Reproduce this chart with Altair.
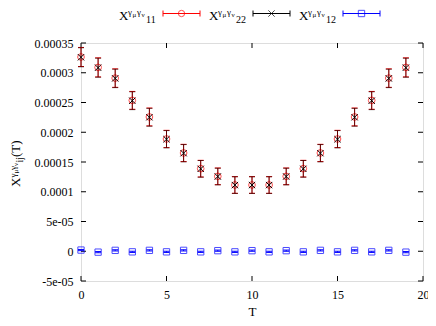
import altair as alt
import pandas as pd

# ---------------- data ----------------
T = list(range(20))
x11 = [3.265e-4, 3.09e-4, 2.91e-4, 2.536e-4, 2.257e-4, 1.887e-4, 1.652e-4, 1.388e-4, 1.259e-4, 1.114e-4,
       1.114e-4, 1.114e-4, 1.259e-4, 1.388e-4, 1.652e-4, 1.887e-4, 2.257e-4, 2.536e-4, 2.91e-4, 3.09e-4]
e11 = [1.6e-5, 1.6e-5, 1.55e-5, 1.5e-5, 1.5e-5, 1.45e-5, 1.45e-5, 1.4e-5, 1.4e-5, 1.4e-5,
       1.4e-5, 1.4e-5, 1.4e-5, 1.4e-5, 1.45e-5, 1.45e-5, 1.5e-5, 1.5e-5, 1.55e-5, 1.6e-5]
x22 = [3.26e-4, 3.085e-4, 2.905e-4, 2.53e-4, 2.252e-4, 1.883e-4, 1.648e-4, 1.385e-4, 1.256e-4, 1.112e-4,
       1.112e-4, 1.112e-4, 1.256e-4, 1.385e-4, 1.648e-4, 1.883e-4, 2.252e-4, 2.53e-4, 2.905e-4, 3.085e-4]
e22 = e11
x12 = [2e-6, -1.5e-6, 1.5e-6, -1e-6, 1.5e-6, -1e-6, 1.5e-6, -1e-6, 1e-6, -1e-6,
       1e-6, -1e-6, 1e-6, -1e-6, 1.5e-6, -1e-6, 1.5e-6, -1e-6, 1.5e-6, -1.5e-6]
e12 = [1e-6] * 20

x_ticks = [0, 5, 10, 15, 20]
y_ticks = [-5e-05, 0, 5e-05, 1e-4, 1.5e-4, 2e-4, 2.5e-4, 3e-4, 3.5e-4]
y_tick_labels = ["-5e-05", "0", "5e-05", "0.0001", "0.00015", "0.0002", "0.00025", "0.0003", "0.00035"]

series_names = ["11", "22", "12"]
series_colors = ["#ff0000", "#000000", "#0000ff"]

W, H = 342, 238
FONT = "Liberation Serif"
X_SCALE = alt.Scale(domain=[0, 20], nice=False, zero=False)
Y_SCALE = alt.Scale(domain=[-5e-05, 3.5e-4], nice=False, zero=False)
CROSS = "M-1,-1L1,1M1,-1L-1,1"

label_expr = " : ".join(
    f"(abs(datum.value - ({v})) < 1e-9) ? '{lab}'" for v, lab in zip(y_ticks, y_tick_labels)) + " : ''"

X_AXIS = alt.Axis(values=x_ticks, ticks=False, domain=False, grid=False, labelFont=FONT,
                  labelFontSize=12, labelPadding=8, labelColor="black", titleFont=FONT,
                  titleFontSize=13, titleFontWeight="normal", titlePadding=5, titleColor="black",
                  labelFlush=False)
Y_AXIS = alt.Axis(values=y_ticks, ticks=False, domain=False, grid=False, labelFont=FONT,
                  labelFontSize=12, labelPadding=8, labelColor="black", labelExpr=label_expr,
                  labelFlush=False)


def X(field):
    return alt.X(field, type="quantitative", scale=X_SCALE, axis=X_AXIS, title="T")


def Y(field):
    return alt.Y(field, type="quantitative", scale=Y_SCALE, axis=Y_AXIS, title=None)


def frame(vals, errs):
    return pd.DataFrame({"T": T, "v": vals, "lo": [v - e for v, e in zip(vals, errs)],
                         "hi": [v + e for v, e in zip(vals, errs)]})


def errbars(df, color, opacity=1.0):
    base = alt.Chart(df)
    r = base.mark_rule(color=color, strokeWidth=1, opacity=opacity).encode(
        x=X("T"), y=Y("lo"), y2="hi:Q")
    t1 = base.mark_tick(color=color, orient="horizontal", size=6, thickness=1, opacity=opacity).encode(
        x=X("T"), y=Y("lo"))
    t2 = base.mark_tick(color=color, orient="horizontal", size=6, thickness=1, opacity=opacity).encode(
        x=X("T"), y=Y("hi"))
    return [r, t1, t2]


d11, d22, d12 = frame(x11, e11), frame(x22, e22), frame(x12, e12)

# inward ticks on all four sides
xt = pd.DataFrame({"T": x_ticks})
yt = pd.DataFrame({"v": y_ticks})
tick_layers = [
    alt.Chart(xt).mark_rule(color="black", strokeWidth=1).encode(
        x=X("T"), y=alt.value(H), y2=alt.value(H - 5)),
    alt.Chart(xt).mark_rule(color="black", strokeWidth=1).encode(
        x=X("T"), y=alt.value(0), y2=alt.value(5)),
    alt.Chart(yt).mark_rule(color="black", strokeWidth=1).encode(
        y=Y("v"), x=alt.value(0), x2=alt.value(5)),
    alt.Chart(yt).mark_rule(color="black", strokeWidth=1).encode(
        y=Y("v"), x=alt.value(W), x2=alt.value(W - 5)),
]

data_layers = []
data_layers += errbars(d11, series_colors[0])
data_layers.append(alt.Chart(d11).mark_point(shape="circle", size=45, filled=False, color=series_colors[0],
                                              strokeWidth=1).encode(x=X("T"), y=Y("v")))
data_layers += errbars(d22, series_colors[1], opacity=0.6)
data_layers.append(alt.Chart(d22).mark_point(shape=CROSS, size=40, filled=False, color=series_colors[1],
                                              strokeWidth=1, opacity=1).encode(x=X("T"), y=Y("v")))
data_layers += errbars(d12, series_colors[2])
data_layers.append(alt.Chart(d12).mark_point(shape="square", size=40, filled=False, color=series_colors[2],
                                              strokeWidth=1).encode(x=X("T"), y=Y("v")))

# ---------- rich text helpers (page px -> plot px) ----------
OX, OY = 81, 43


def txt(s, px, py, fs, angle=0):
    return alt.Chart(pd.DataFrame({"s": [s]})).mark_text(
        font=FONT, fontSize=fs, align="left", baseline="alphabetic", angle=angle, color="black").encode(
        text="s:N", x=alt.value(px - OX), y=alt.value(py - OY))


deco = []
# legend
legend_x = [119, 209, 299]
shapes = ["circle", CROSS, "square"]
for lx, name, col, shp in zip(legend_x, series_names, series_colors, shapes):
    deco += [txt("X", lx, 19.5, 13), txt("γ", lx + 9, 15, 9), txt("μ", lx + 13.5, 16.5, 7),
             txt("γ", lx + 18, 15, 9), txt("ν", lx + 22.5, 16.5, 7), txt(name, lx + 27, 22.5, 10)]
    x0, x1, ym = lx + 44 - OX, lx + 81 - OX, 13.5 - OY
    one = pd.DataFrame({"a": [0]})
    deco.append(alt.Chart(one).mark_rule(color=col, strokeWidth=1).encode(
        x=alt.value(x0), x2=alt.value(x1), y=alt.value(ym)))
    deco.append(alt.Chart(one).mark_rule(color=col, strokeWidth=1).encode(
        x=alt.value(x0), y=alt.value(ym - 3), y2=alt.value(ym + 3)))
    deco.append(alt.Chart(one).mark_rule(color=col, strokeWidth=1).encode(
        x=alt.value(x1), y=alt.value(ym - 3), y2=alt.value(ym + 3)))
    deco.append(alt.Chart(one).mark_point(shape=shp, size=40, filled=False,
                                          color=col, strokeWidth=1).encode(
        x=alt.value((x0 + x1) / 2), y=alt.value(ym)))

# y-axis title, rotated
deco += [txt("X", 20, 187, 13, 270), txt("γ", 15.5, 177.5, 9, 270), txt("μ", 17.5, 173.5, 7, 270),
         txt("γ", 15.5, 170, 9, 270), txt("ν", 17.5, 166, 7, 270), txt("ij", 23, 162.5, 10, 270),
         txt("(T)", 20, 157, 13, 270)]

chart = alt.layer(*tick_layers, *data_layers, *deco).properties(
    width=W, height=H, autosize="none",
    padding={"left": 73, "top": 35, "right": 5, "bottom": 37},
).configure_view(stroke="black", strokeWidth=1).configure(background="white")

chart.save("out.html", embed_options={"renderer": "svg", "actions": False})
